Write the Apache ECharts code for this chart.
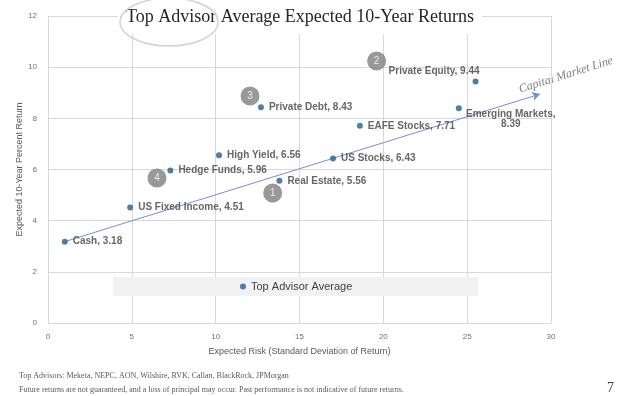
<!DOCTYPE html>
<html>
<head>
<meta charset="utf-8">
<script src="https://cdn.jsdelivr.net/npm/echarts@6/dist/echarts.min.js"></script>
<style>
  html, body { margin: 0; padding: 0; background: #fff; }
  #main { width: 624px; height: 396px; }
</style>
</head>
<body>
<div id="main"></div>
<script>
// 资产类别数据
const assetNames = ['Cash', 'US Fixed Income', 'Hedge Funds', 'High Yield', 'Private Debt',
    'Real Estate', 'US Stocks', 'EAFE Stocks', 'Emerging Markets', 'Private Equity'];
const assetRisk = [1.0, 4.9, 7.3, 10.2, 12.7, 13.8, 17.0, 18.6, 24.5, 25.5];
const assetReturn = [3.18, 4.51, 5.96, 6.56, 8.43, 5.56, 6.43, 7.71, 8.39, 9.44];

// 灰色编号圆圈
const badgeNums = ['1', '2', '3', '4'];
const badgeX = [13.4, 19.6, 12.05, 6.5];
const badgeY = [5.08, 10.24, 8.87, 5.67];

// 资本市场线 起点/终点
const cmlStart = [1.0, 3.18];
const cmlEnd = [29.35, 8.95];

const xTicks = { min: 0, max: 30, interval: 5 };
const yTicks = { min: 0, max: 12, interval: 2 };

const footLine1 = 'Top Advisors: Meketa, NEPC, AON, Wilshire, RVK, Callan, BlackRock, JPMorgan';
const footLine2 = 'Future returns are not guaranteed, and a loss of principal may occur. Past performance is not indicative of future returns.';

const gridColor = '#d9d9d9';
const axisText = '#6f6f6f';

let myChart = echarts.init(document.getElementById('main'));

let pointData = assetNames.map(function (n, i) {
    let item = { name: n, value: [assetRisk[i], assetReturn[i]] };
    if (n === 'Emerging Markets') {
        item.label = { position: [55, 4], align: 'center', verticalAlign: 'top',
            formatter: n + ',\n' + assetReturn[i].toFixed(2) };
    } else if (n === 'Private Equity') {
        item.label = { position: [7, -7], align: 'right', verticalAlign: 'middle' };
    }
    return item;
});

let badgeData = badgeNums.map(function (b, i) {
    return { name: b, value: [badgeX[i], badgeY[i]] };
});

let option = {
    backgroundColor: '#fff',
    title: {
        text: 'Top Advisor Average Expected 10-Year Returns',
        left: 118,
        top: 4,
        padding: [4, 8, 8, 8],
        backgroundColor: '#fff',
        textStyle: {
            fontFamily: 'Liberation Serif',
            fontWeight: 'normal',
            fontSize: 18,
            color: '#262626'
        }
    },
    legend: {
        data: ['Top Advisor Average'],
        left: 113,
        top: 277,
        padding: [4, 126, 4, 127],
        backgroundColor: '#f2f2f2',
        itemWidth: 6,
        itemHeight: 6,
        itemGap: 5,
        selectedMode: false,
        textStyle: { fontFamily: 'Liberation Sans', fontSize: 11, color: '#404040' }
    },
    grid: { left: 48, right: 73, top: 16, bottom: 73 },
    xAxis: {
        type: 'value',
        min: xTicks.min, max: xTicks.max, interval: xTicks.interval,
        name: 'Expected Risk (Standard Deviation of Return)',
        nameLocation: 'middle',
        nameGap: 24,
        nameMoveOverlap: false,
        nameTextStyle: { fontFamily: 'Liberation Sans', fontSize: 9, color: '#595959' },
        axisLine: { lineStyle: { color: gridColor } },
        axisTick: { show: false },
        axisLabel: { margin: 10, fontFamily: 'Liberation Sans', fontSize: 8, color: axisText },
        splitLine: { lineStyle: { color: gridColor, width: 1 } }
    },
    yAxis: {
        type: 'value',
        min: yTicks.min, max: yTicks.max, interval: yTicks.interval,
        name: 'Expected 10-Year Percent Return',
        nameLocation: 'middle',
        nameGap: 24,
        nameMoveOverlap: false,
        nameTextStyle: { fontFamily: 'Liberation Sans', fontSize: 9, color: '#595959' },
        axisLine: { show: true, lineStyle: { color: gridColor } },
        axisTick: { show: false },
        axisLabel: { margin: 11, fontFamily: 'Liberation Sans', fontSize: 8, color: axisText },
        splitLine: { lineStyle: { color: gridColor, width: 1 } }
    },
    series: [
        {
            name: 'Top Advisor Average',
            type: 'scatter',
            symbol: 'circle',
            symbolSize: 6,
            itemStyle: { color: '#255e91' },
            z: 5,
            label: {
                show: true,
                position: 'right',
                distance: 5,
                formatter: function (p) { return p.name + ', ' + p.value[1].toFixed(2); },
                fontFamily: 'Liberation Sans',
                fontWeight: 'bold',
                fontSize: 10,
                color: '#404040'
            },
            data: pointData,
            markLine: {
                silent: true,
                symbol: ['none', 'arrow'],
                symbolSize: [7, 8],
                label: { show: false },
                lineStyle: { color: '#6f93cf', width: 1, type: 'solid' },
                data: [[{ coord: cmlStart }, { coord: cmlEnd }]]
            }
        },
        {
            name: 'badges',
            type: 'scatter',
            symbol: 'circle',
            symbolSize: 19,
            itemStyle: { color: '#7f7f7f' },
            z: 4,
            label: {
                show: true,
                position: 'inside',
                formatter: '{b}',
                fontFamily: 'Liberation Sans',
                fontSize: 10,
                color: '#fff'
            },
            data: badgeData
        }
    ],
    graphic: [
        {
            type: 'ellipse',
            shape: { cx: 169, cy: 22, rx: 49, ry: 24 },
            style: { fill: 'none', stroke: '#d4d4d4', lineWidth: 1.5 },
            z: 100
        },
        {
            type: 'text',
            x: 566, y: 75,
            rotation: 17.5 * Math.PI / 180,
            style: {
                text: 'Capital Market Line',
                font: 'italic 12px "Liberation Serif"',
                fill: '#7f7f7f',
                align: 'center',
                verticalAlign: 'middle'
            }
        },
        {
            type: 'text',
            left: 19, top: 372,
            style: { text: footLine1, font: '8px "Liberation Serif"', fill: '#595959' }
        },
        {
            type: 'text',
            left: 19, top: 386,
            style: { text: footLine2, font: '8px "Liberation Serif"', fill: '#595959' }
        },
        {
            type: 'text',
            left: 607, top: 381,
            style: { text: '7', font: '14px "Liberation Serif"', fill: '#404040' }
        }
    ]
};

myChart.setOption(option);
</script>
</body>
</html>
